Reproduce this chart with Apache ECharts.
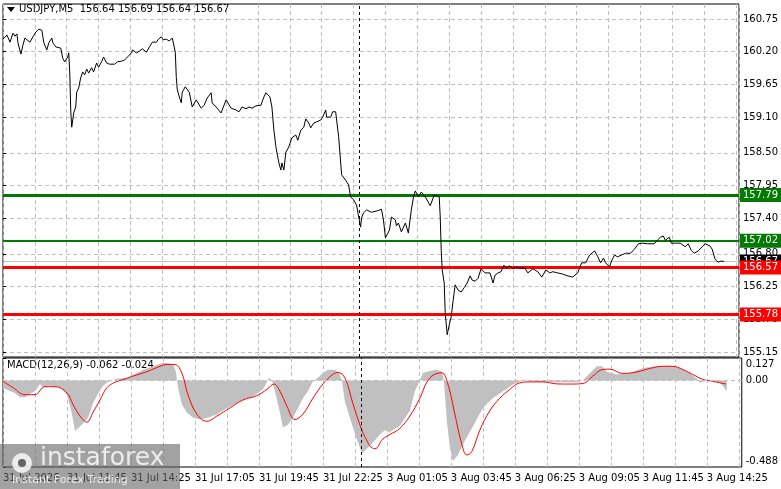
<!DOCTYPE html>
<html>
<head>
<meta charset="utf-8">
<script src="https://cdn.jsdelivr.net/npm/echarts@6/dist/echarts.min.js"></script>
<style>
  html, body { margin: 0; padding: 0; background: #fff; }
  #chart { width: 781px; height: 489px; }
</style>
</head>
<body>
<div id="chart"></div>
<script>
// bar index (1 bar = M5) and close price
const PRICE_BAR = [0,1,2,3.5,5,6,7,7.5,9,10,11,12,13.5,15,16.5,18,19.5,20.5,22,23,24.5,25,26.5,27.5,29,30,31,32.5,33,33.5,34,34.5,35.5,36.5,37,38,39,40,41,42,43,44.5,45.5,47,48,49.5,50.5,52,53.5,56,57.5,59.5,61,62.5,64.5,65,67,68.5,70,72,73.5,75,77,78,79.5,80.5,82,83.5,85,85.5,86.5,87,87.5,88.5,89.5,90,91.5,93.5,95,97,99.5,101,102.5,104.5,105,107,109.5,112,114.5,117,118.5,120,122,123.5,125,127,129.5,131,132,134,135,136,137,138.5,139.5,140,141,142,143.5,145,147,148,149.5,151,152,153.5,154.5,156,157.5,159.5,160.5,162,162.5,164.5,165.5,167,167.5,168.5,170,172,173.5,174.5,176,177.5,179.5,180,181,182.5,185,187.5,190,191,192,193,194,195,197,197.5,198.5,200,201,202,203.5,205,206,207,208.5,210,212,214.5,216.5,217.5,219,219.5,220,220.5,221.5,222,223,224,225,225.5,226,227,228.5,230,231.5,233,234.5,235.5,237,238.5,240,242,244.5,246,247,248.5,250,251.5,252.5,254.5,256,257.5,260,262,263.5,266,268.5,270.5,272.5,274.5,276,278.5,281,283.5,286,288.5,290.5,292.5,294.5,297,298.5,300,301.5,302.5,304.5,305.5,307,308.5,310.5,312.5,315,317,319,321,323.5,327,328.5,330,331.5,332.5,334.5,335.5,337.5,340,342.5,344,345.5,347,349,351,352.5,355,356,357.5,359,360.5,362];
const PRICE = [160.41,160.43,160.48,160.36,160.51,160.46,160.50,160.35,160.16,160.31,160.43,160.40,160.36,160.45,160.53,160.58,160.56,160.35,160.23,160.35,160.43,160.35,160.28,160.31,160.26,160.09,160.03,160.11,160.18,159.86,159.22,158.93,159.17,159.27,159.52,159.59,159.76,159.86,159.81,159.91,159.84,159.93,159.86,160.01,159.94,160.03,160.11,160.01,159.99,159.99,160.03,160.04,160.06,160.11,160.18,160.23,160.18,160.21,160.25,160.19,160.28,160.36,160.36,160.41,160.45,160.40,160.41,160.38,160.43,160.45,160.19,159.77,159.56,159.44,159.34,159.52,159.61,159.52,159.27,159.39,159.25,159.30,159.42,159.51,159.34,159.27,159.17,159.39,159.25,159.22,159.19,159.27,159.24,159.27,159.25,159.29,159.30,159.44,159.51,159.44,159.27,158.88,158.60,158.33,158.21,158.33,158.21,158.51,158.60,158.75,158.80,158.71,158.88,158.93,159.07,159.00,158.92,159.00,159.02,159.05,159.10,159.22,159.10,159.10,159.19,159.19,159.05,158.77,158.13,158.04,157.96,157.76,157.71,157.62,157.25,157.40,157.49,157.54,157.50,157.52,157.55,157.37,157.07,157.08,157.20,157.42,157.37,157.27,157.32,157.17,157.15,157.32,157.15,157.54,157.74,157.86,157.76,157.84,157.76,157.61,157.79,157.79,157.76,157.42,156.86,156.53,156.31,155.81,155.44,155.60,155.74,155.74,156.02,156.28,156.19,156.16,156.23,156.31,156.43,156.36,156.34,156.39,156.55,156.48,156.48,156.31,156.44,156.48,156.50,156.61,156.56,156.60,156.55,156.58,156.56,156.56,156.48,156.55,156.50,156.41,156.53,156.48,156.50,156.48,156.46,156.43,156.41,156.48,156.65,156.65,156.78,156.85,156.76,156.65,156.73,156.65,156.58,156.68,156.78,156.75,156.78,156.81,156.81,156.88,156.97,156.98,156.97,156.97,157.03,157.08,157.10,157.03,157.08,156.98,156.98,156.98,156.92,156.97,156.86,156.81,156.85,156.92,156.97,156.93,156.88,156.71,156.66,156.68,156.67];

// MACD main (grey histogram)
const HIST_BAR = [0,3.5,6,8.5,11,13.5,16,18.5,20,23.5,28.5,32,34.5,36,38.5,41,42.5,45,47.5,50,52,54.5,57,62.5,65,70,75,80,85,86.5,87.5,89.5,92,95,98.5,102.5,107,112,115,120,125,130,132,133,134.5,136,138.5,140,142.5,145,147.5,150,152.5,155,157.5,160,162.5,166,168,169.5,171,173.5,176,179.5,183.5,188.5,191,193.5,198.5,203.5,206,208.5,210,213.5,217,219.5,220.5,222,223.5,225,227.5,231,235,240,245,250,255,260,267,277,287,290,292,297,299.5,302,307,313.5,320,327,333.5,338.5,343.5,347,348.5,351,353.5,358.5,360,362];
const HIST = [-0.04,-0.06,-0.07,-0.095,-0.095,-0.075,-0.06,-0.02,-0.04,-0.03,-0.04,-0.08,-0.19,-0.285,-0.26,-0.23,-0.21,-0.13,-0.075,-0.03,-0.013,0,0.01,0.015,0.03,0.06,0.08,0.10,0.095,0.05,-0.04,-0.135,-0.18,-0.21,-0.22,-0.21,-0.19,-0.155,-0.14,-0.11,-0.09,-0.05,-0.01,0.015,0,-0.06,-0.18,-0.265,-0.25,-0.21,-0.155,-0.10,-0.06,-0.005,0.015,0.043,0.06,0.06,0.045,0,-0.12,-0.21,-0.30,-0.41,-0.37,-0.305,-0.28,-0.29,-0.255,-0.17,-0.06,0,0.043,0.053,0.062,0.05,0,-0.23,-0.38,-0.455,-0.42,-0.34,-0.26,-0.155,-0.10,-0.06,-0.023,0,-0.008,-0.01,-0.01,0,0.024,0.08,0.08,0.05,0.034,0.043,0.07,0.08,0.085,0.07,0.043,0.01,-0.013,-0.005,0,-0.013,-0.03,-0.06];

// signal (red)
const SIG_BAR = [0,5,11,16,21,26,32,35,38.5,42,45,48.5,52,56,60,65,72,78.5,82,86,89.5,92.5,97,102,107,113.5,120,127,132,135.5,138.5,142,146,150,155,160,165,167.5,171,175,179.5,182.5,183.5,186,190,193.5,198.5,203.5,208.5,212.5,217,219.5,222.5,226,229.5,232,234.5,238.5,243.5,248.5,253.5,258.5,263.5,270,277,283.5,290,295,300,303.5,310,317,323.5,330,335,340,345,350,355,358.5,361.5];
const SIG = [-0.005,-0.04,-0.08,-0.08,-0.035,-0.035,-0.07,-0.135,-0.20,-0.235,-0.18,-0.11,-0.04,-0.01,0.005,0.025,0.05,0.08,0.09,0.09,0.04,-0.08,-0.19,-0.23,-0.20,-0.155,-0.11,-0.085,-0.05,-0.02,-0.06,-0.145,-0.22,-0.19,-0.10,-0.02,0.035,0.045,0.015,-0.13,-0.28,-0.35,-0.37,-0.385,-0.33,-0.305,-0.27,-0.20,-0.10,0,0.04,0.043,-0.02,-0.19,-0.36,-0.42,-0.40,-0.28,-0.17,-0.10,-0.05,-0.013,-0.008,-0.008,-0.019,-0.02,-0.017,0.025,0.062,0.064,0.04,0.048,0.068,0.08,0.08,0.062,0.034,0.006,-0.004,-0.013,-0.019];

const PRICE_TICKS = [160.75,160.20,159.65,159.10,158.50,157.95,157.40,156.80,156.25,155.70,155.15];
const MACD_MAX = 0.127, MACD_MIN = -0.488;
const TIME_LABELS = ['31 Jul 2026','31 Jul 11:45','31 Jul 14:25','31 Jul 17:05','31 Jul 19:45','31 Jul 22:25','3 Aug 01:05','3 Aug 03:45','3 Aug 06:25','3 Aug 09:05','3 Aug 11:45','3 Aug 14:25'];
const LEVELS = [
  { value: 157.79, color: '#007a00', width: 3 },
  { value: 157.02, color: '#007a00', width: 2 },
  { value: 156.57, color: '#ff0000', width: 3 },
  { value: 155.78, color: '#ff0000', width: 3 }
];
const LAST = 156.67;
const SESSION_BAR = 179;

const FONT = 'DejaVu Sans';
const pair = (xs, ys) => xs.map((x, i) => [x, ys[i]]);
const gridLine = { show: true, lineStyle: { color: '#c0c0c0', type: [4, 3], width: 1 } };

const chart = echarts.init(document.getElementById('chart'), null, { renderer: 'canvas' });

const xBase = {
  type: 'value', min: 0, max: 369.5, interval: 16,
  axisLine: { show: false }, axisTick: { show: false },
  splitLine: gridLine
};

chart.setOption({
  animation: false,
  backgroundColor: '#fff',
  textStyle: { fontFamily: FONT },
  grid: [
    { left: 3, top: 4, width: 739, height: 353, show: true, borderColor: '#000', borderWidth: 1 },
    { left: 3, top: 358, width: 739, height: 109, show: true, borderColor: '#000', borderWidth: 1 }
  ],
  xAxis: [
    { ...xBase, gridIndex: 0, axisLabel: { show: false } },
    { ...xBase, gridIndex: 1,
      axisLabel: {
        show: true, color: '#000', fontSize: 10, fontFamily: FONT, align: 'left', margin: 6,
        showMaxLabel: false,
        formatter: v => (v % 32 === 0 ? (TIME_LABELS[v / 32] || '') : '')
      } }
  ],
  yAxis: [
    { type: 'value', gridIndex: 0, position: 'right', min: 155.066, max: 161.002,
      axisLine: { show: false },
      axisTick: { show: true, length: 3, lineStyle: { color: '#000' }, customValues: PRICE_TICKS },
      axisLabel: { color: '#000', fontSize: 10, fontFamily: FONT, margin: 4,
        customValues: PRICE_TICKS, formatter: v => v.toFixed(2) },
      splitLine: gridLine },
    { type: 'value', gridIndex: 1, position: 'right', min: MACD_MIN, max: MACD_MAX,
      axisLine: { show: false },
      axisTick: { show: true, length: 3, lineStyle: { color: '#000' }, customValues: [MACD_MAX, 0, MACD_MIN] },
      axisLabel: { color: '#000', fontSize: 10, fontFamily: FONT, margin: 4,
        customValues: [MACD_MAX, 0, MACD_MIN],
        formatter: v => v === MACD_MAX ? '{t|' + v.toFixed(3) + '}'
          : v === MACD_MIN ? '{b|' + v.toFixed(3) + '}' : '0.00',
        rich: { t: { padding: [13, 0, 0, 0], fontSize: 10 }, b: { padding: [0, 0, 11, 0], fontSize: 10 } } },
      splitLine: { show: false } }
  ],
  series: [
    {
      type: 'line', xAxisIndex: 0, yAxisIndex: 0, data: pair(PRICE_BAR, PRICE),
      symbol: 'none', lineStyle: { color: '#000', width: 1 }, z: 5,
      markLine: {
        silent: true, symbol: 'none', animation: false,
        data: [
          { yAxis: LAST, lineStyle: { color: '#c0c0c0', width: 1, type: 'solid' },
            label: { show: true, position: 'end', formatter: LAST.toFixed(2), color: '#fff',
              backgroundColor: '#000', padding: [2, 3], fontSize: 10, distance: 1 } },
          ...LEVELS.map(l => ({
            yAxis: l.value, lineStyle: { color: l.color, width: l.width, type: 'solid' },
            label: { show: true, position: 'end', formatter: l.value.toFixed(2), color: '#fff',
              backgroundColor: l.color, padding: [2, 3], fontSize: 10, distance: 1 }
          })),
          { xAxis: SESSION_BAR, lineStyle: { color: '#000', width: 1, type: [3, 3] }, label: { show: false } }
        ]
      }
    },
    {
      type: 'line', xAxisIndex: 1, yAxisIndex: 1, data: pair(HIST_BAR, HIST),
      symbol: 'none', lineStyle: { width: 0, opacity: 0 },
      areaStyle: { color: '#c0c0c0', opacity: 1, origin: 0 }, z: 2,
      markLine: {
        silent: true, symbol: 'none', animation: false,
        data: [
          { yAxis: 0, lineStyle: { color: '#c0c0c0', width: 1, type: [4, 3] }, label: { show: false } },
          { xAxis: SESSION_BAR, lineStyle: { color: '#000', width: 1, type: [3, 3] }, label: { show: false } }
        ]
      }
    },
    {
      type: 'line', xAxisIndex: 1, yAxisIndex: 1, data: pair(SIG_BAR, SIG),
      symbol: 'none', smooth: 0.4, lineStyle: { color: '#ff0000', width: 1 }, z: 4
    }
  ],
  graphic: [
    { type: 'polygon', shape: { points: [[7, 7], [15, 7], [11, 12]] }, style: { fill: '#000' } },
    { type: 'text', left: 19, top: 4, style: { text: 'USDJPY,M5  156.64 156.69 156.64 156.67',
      fill: '#000', font: '10px "DejaVu Sans"' } },
    { type: 'text', left: 7, top: 360, style: { text: 'MACD(12,26,9) -0.062 -0.024',
      fill: '#000', font: '10px "DejaVu Sans"' } },
    { type: 'rect', shape: { x: 0, y: 444, width: 180, height: 45 },
      style: { fill: 'rgba(100,100,100,0.6)' }, z: 100 },
    { type: 'circle', shape: { cx: 22, cy: 463, r: 10 },
      style: { fill: 'rgba(255,255,255,0.8)' }, z: 101 },
    { type: 'circle', shape: { cx: 22, cy: 463, r: 4 },
      style: { fill: 'rgba(100,100,100,1)' }, z: 102 },
    { type: 'text', left: 40, top: 446, z: 101, style: { text: 'instaforex',
      fill: 'rgba(255,255,255,0.8)', font: '25px "DejaVu Sans"' } },
    { type: 'text', left: 12, top: 475, z: 101, style: { text: 'Instant Forex Trading',
      fill: 'rgba(255,255,255,0.8)', font: '11px "DejaVu Sans"' } }
  ]
});
</script>
</body>
</html>
